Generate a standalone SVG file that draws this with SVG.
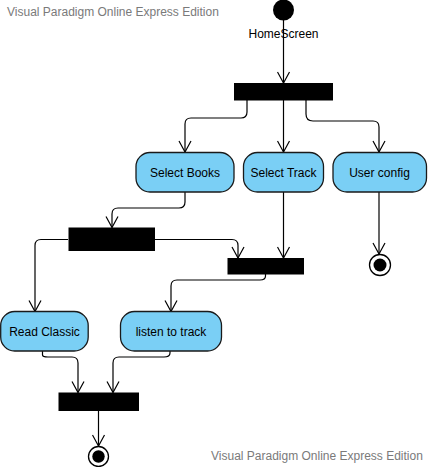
<svg xmlns="http://www.w3.org/2000/svg" width="428" height="467" viewBox="0 0 428 467">
<style>
.wm{font-family:"Liberation Sans",Arial,sans-serif;font-size:12px;fill:#7a7a7a}
.lbl{font-family:"Liberation Sans",Arial,sans-serif;font-size:12px;fill:#000;text-anchor:middle}
.act{fill:#7acff5;stroke:#1a1a1a;stroke-width:1.3}
.bar{fill:#000}
.c{fill:none;stroke:#000;stroke-width:1.2}
</style>
<defs>
<marker id="arr" viewBox="0 0 13 14" refX="12" refY="7" markerWidth="13" markerHeight="14" markerUnits="userSpaceOnUse" orient="auto">
<path d="M1,1 L12,7 L1,13" fill="none" stroke="#000" stroke-width="1.2"/>
</marker>
</defs>
<rect width="428" height="467" fill="#fff"/>
<text class="wm" x="7" y="16">Visual Paradigm Online Express Edition</text>
<text class="wm" x="211" y="460">Visual Paradigm Online Express Edition</text>

<g id="connectors">
<path class="c" d="M283.5,20 V83" marker-end="url(#arr)"/>
<path class="c" d="M247,100 V112 Q247,118 241,118 H191 Q185,118 185,124 V152" marker-end="url(#arr)"/>
<path class="c" d="M283.5,100 V152" marker-end="url(#arr)"/>
<path class="c" d="M306,100 V114 Q306,121 313,121 H373 Q379,121 379,127 V152" marker-end="url(#arr)"/>
<path class="c" d="M379,192 V254" marker-end="url(#arr)"/>
<path class="c" d="M185,192 V202 Q185,208 179,208 H118 Q112,208 112,214 V227.5" marker-end="url(#arr)"/>
<path class="c" d="M283.5,192 V258" marker-end="url(#arr)"/>
<path class="c" d="M68,239.5 H41 Q35,239.5 35,245.5 V311.5" marker-end="url(#arr)"/>
<path class="c" d="M155,239.5 H232 Q238,239.5 238,245.5 V258" marker-end="url(#arr)"/>
<path class="c" d="M265.5,274 V276 Q265.5,280 260,280 H177 Q171,280 171,286 V311.5" marker-end="url(#arr)"/>
<path class="c" d="M42.5,351 V355 Q42.5,357 48,357 H72 Q78,357 78,363 V392.5" marker-end="url(#arr)"/>
<path class="c" d="M170,351 V353 Q170,357 164,357 H119 Q113,357 113,363 V392.5" marker-end="url(#arr)"/>
<path class="c" d="M98.5,411 V446" marker-end="url(#arr)"/>
</g>

<g id="start"><circle cx="283.5" cy="10" r="10.5" fill="#000"/><text class="lbl" x="283.5" y="38">HomeScreen</text></g>
<g id="fork1"><rect class="bar" x="234" y="83" width="99" height="17.5"/></g>
<g id="selectBooks"><rect class="act" x="136" y="152.5" width="98" height="39.5" rx="14"/><text class="lbl" x="185" y="176.5">Select Books</text></g>
<g id="selectTrack"><rect class="act" x="243.5" y="152.5" width="80" height="39.5" rx="14"/><text class="lbl" x="283.5" y="176.5">Select Track</text></g>
<g id="userConfig"><rect class="act" x="333" y="152.5" width="93.5" height="39.5" rx="14"/><text class="lbl" x="379.5" y="176.5">User config</text></g>
<g id="end1"><circle cx="380" cy="265" r="10.5" fill="#fff" stroke="#000" stroke-width="1.3"/><circle cx="380" cy="265" r="6.5" fill="#000"/></g>
<g id="fork2"><rect class="bar" x="68.5" y="227.5" width="86.5" height="23.5"/></g>
<g id="join1"><rect class="bar" x="227.5" y="258" width="76.5" height="16.5"/></g>
<g id="readClassic"><rect class="act" x="0.7" y="311.5" width="87.5" height="39.5" rx="14"/><text class="lbl" x="44.5" y="335.5">Read Classic</text></g>
<g id="listenTrack"><rect class="act" x="120.5" y="311.5" width="101" height="39.5" rx="14"/><text class="lbl" x="171" y="335.5">listen to track</text></g>
<g id="join2"><rect class="bar" x="58.5" y="392.5" width="80.5" height="18.5"/></g>
<g id="end2"><circle cx="98.5" cy="456.5" r="10" fill="#fff" stroke="#000" stroke-width="1.3"/><circle cx="98.5" cy="456.5" r="6.2" fill="#000"/></g>
</svg>
